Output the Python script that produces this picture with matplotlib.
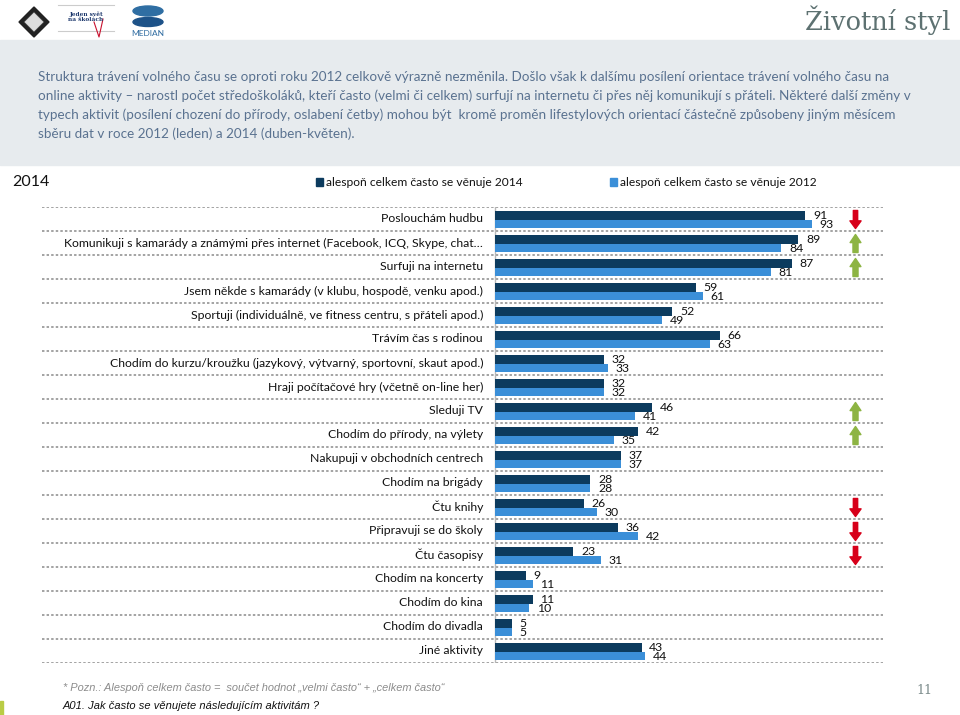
import matplotlib
matplotlib.use('Agg')
import matplotlib.pyplot as plt
from matplotlib.path import Path
from matplotlib.patches import Rectangle, Polygon

# ---------------- data ----------------
categories = [
    "Poslouchám hudbu",
    "Komunikuji s kamarády a známými přes internet (Facebook, ICQ, Skype, chat…",
    "Surfuji na internetu",
    "Jsem někde s kamarády (v klubu, hospodě, venku apod.)",
    "Sportuji (individuálně, ve fitness centru, s přáteli apod.)",
    "Trávím čas s rodinou",
    "Chodím do kurzu/kroužku (jazykový, výtvarný, sportovní, skaut apod.)",
    "Hraji počítačové hry (včetně on-line her)",
    "Sleduji TV",
    "Chodím do přírody, na výlety",
    "Nakupuji v obchodních centrech",
    "Chodím na brigády",
    "Čtu knihy",
    "Připravuji se do školy",
    "Čtu časopisy",
    "Chodím na koncerty",
    "Chodím do kina",
    "Chodím do divadla",
    "Jiné aktivity",
]
v2014 = [91, 89, 87, 59, 52, 66, 32, 32, 46, 42, 37, 28, 26, 36, 23, 9, 11, 5, 43]
v2012 = [93, 84, 81, 61, 49, 63, 33, 32, 41, 35, 37, 28, 30, 42, 31, 11, 10, 5, 44]
change = ['down', 'up', 'up', None, None, None, None, None, 'up', 'up',
          None, None, 'down', 'down', 'down', None, None, None, None]
series_names = ["alespoň celkem často se věnuje 2014", "alespoň celkem často se věnuje 2012"]

paragraph = [
    "Struktura trávení volného času se oproti roku 2012 celkově výrazně nezměnila. Došlo však k dalšímu posílení orientace trávení volného času na",
    "online aktivity – narostl počet středoškoláků, kteří často (velmi či celkem) surfují na internetu či přes něj komunikují s přáteli. Některé další změny v",
    "typech aktivit (posílení chození do přírody, oslabení četby) mohou být  kromě proměn lifestylových orientací částečně způsobeny jiným měsícem",
    "sběru dat v roce 2012 (leden) a 2014 (duben-květen).",
]
paragraph_widths = [910, 910, 898, 315]

DARK = '#0c3b5e'
LIGHT = '#3b8fd8'
RED = '#d7001a'
GREEN = '#8db443'
SANS = ['Lato', 'DejaVu Sans']

W, H = 960, 715
fig = plt.figure(figsize=(W / 100, H / 100), dpi=100)
fig.patch.set_facecolor('white')
renderer = fig.canvas.get_renderer()


def fx(x):
    return x / W


def fy(y):
    return 1 - y / H


def fit(t, target):
    w = t.get_window_extent(renderer).width
    t.set_fontsize(t.get_fontsize() * target / w)
    return t.get_fontsize()


# ---------------- header ----------------
fig.patches.append(Rectangle((0, fy(165)), 1, 125 / H, transform=fig.transFigure,
                             color='#e7ebee', zorder=0))
tt = fig.text(fx(950), fy(30), "Životní styl", family=['DejaVu Serif'], color='#5d7171',
              fontsize=20, ha='right', va='baseline')
fit(tt, 145)

# simple logo sketches
fig.patches.append(Polygon([(fx(34), fy(7)), (fx(49), fy(22)), (fx(34), fy(37)), (fx(19), fy(22))],
                           closed=True, transform=fig.transFigure, color='#222222'))
fig.patches.append(Polygon([(fx(34), fy(12)), (fx(44), fy(22)), (fx(34), fy(32)), (fx(24), fy(22))],
                           closed=True, transform=fig.transFigure, facecolor='#dddddd',
                           edgecolor='#444444', lw=0.5))
for yy in (5, 31):
    fig.lines.append(plt.Line2D([fx(58), fx(114)], [fy(yy), fy(yy)], transform=fig.transFigure,
                                color='#cccccc', lw=0.8))
fig.text(fx(86), fy(17), "Jeden svět\nna školách", family=['DejaVu Serif'], fontsize=4.2,
         color='#1f3a6e', ha='center', va='center', weight='bold', linespacing=1.0)
fig.lines.append(plt.Line2D([fx(94), fx(99), fx(103)], [fy(22), fy(37), fy(19)],
                            transform=fig.transFigure, color='#c8102e', lw=0.8))
fig.patches.append(matplotlib.patches.Ellipse((fx(148), fy(11)), 30 / W, 10 / H,
                                              transform=fig.transFigure, color='#2f6ea3'))
fig.patches.append(matplotlib.patches.Ellipse((fx(148), fy(22)), 30 / W, 9 / H,
                                              transform=fig.transFigure, color='#1d5288'))
fig.text(fx(148), fy(33), "MEDIAN", family=SANS, fontsize=6, color='#2d6a9f',
         ha='center', va='center')

# paragraph
line_y = [77, 96, 115, 134]
sizes = []
objs = []
for s, yy, wdt in zip(paragraph, line_y, paragraph_widths):
    t = fig.text(fx(38), fy(yy), s, family=SANS, color='#5a7290', fontsize=10,
                 ha='left', va='center')
    sizes.append(fit(t, wdt))
    objs.append(t)
ps = min(sizes)
for t in objs:
    t.set_fontsize(ps)

# legend row
fig.text(fx(12), fy(182), "2014", family=SANS, fontsize=11.5, color='#111111', va='center')
for (sx, col, name) in [(316, DARK, series_names[0]), (610, LIGHT, series_names[1])]:
    fig.patches.append(Rectangle((fx(sx), fy(186)), 7 / W, 8 / H, transform=fig.transFigure,
                                 color=col))
    lt = fig.text(fx(sx + 10), fy(182), name, family=SANS, fontsize=9.5, color='#111111',
                  va='center', ha='left')
    fit(lt, 197)

# ---------------- chart ----------------
PXU = 3.41  # pixels per percent
x0 = 495
ax = fig.add_axes([fx(42), fy(663), (883 - 42) / W, (663 - 207) / H])
ax.set_xlim(-(x0 - 42) / PXU, (883 - x0) / PXU)
n = len(categories)
ax.set_ylim(n, 0)
ax.axis('off')

for i in range(n + 1):
    ax.axhline(i, color='#8a8a8a', lw=1.1, ls=(0, (1.6, 1.4)), zorder=1)
ax.plot([0, 0], [0, n], color='#b8b8b8', lw=1.0, zorder=2)

ypos = list(range(n))
ax.barh([y + 0.18 for y in ypos], v2014, height=0.355, left=0, align='edge',
        color=DARK, zorder=3)
ax.barh([y + 0.535 for y in ypos], v2012, height=0.355, left=0, align='edge',
        color=LIGHT, zorder=3)

# category labels
lab_objs = []
for i, c in enumerate(categories):
    t = ax.annotate(c, xy=(0, i + 0.5), xytext=(-8.6, 0), textcoords='offset points',
                    ha='right', va='center', family=SANS, fontsize=9.5, color='#111111')
    lab_objs.append(t)
fig.canvas.draw()
ls_ = fit(lab_objs[1], 422)
for t in lab_objs:
    t.set_fontsize(ls_)

# value labels
for i in range(n):
    ax.annotate(str(v2014[i]), xy=(v2014[i], i + 0.36), xytext=(5.5, 0),
                textcoords='offset points', ha='left', va='center', family=SANS,
                fontsize=8.8, color='#111111', zorder=5)
    ax.annotate(str(v2012[i]), xy=(v2012[i], i + 0.71), xytext=(5.5, 0),
                textcoords='offset points', ha='left', va='center', family=SANS,
                fontsize=8.8, color='#111111', zorder=5)

# change arrows
up_verts = [(-0.28, -1), (0.28, -1), (0.28, 0.1), (0.6, 0.1), (0, 1), (-0.6, 0.1),
            (-0.28, 0.1), (-0.28, -1)]
up_path = Path(up_verts, [Path.MOVETO] + [Path.LINETO] * 6 + [Path.CLOSEPOLY])
dn_verts = [(-0.24, 1), (0.24, 1), (0.24, -0.15), (0.62, -0.15), (0, -1), (-0.62, -0.15),
            (-0.24, -0.15), (-0.24, 1)]
dn_path = Path(dn_verts, [Path.MOVETO] + [Path.LINETO] * 6 + [Path.CLOSEPOLY])
arrow_x = (855 - x0) / PXU
for i, ch in enumerate(change):
    if ch == 'up':
        ax.plot([arrow_x], [i + 0.5], marker=up_path, ms=13, color=GREEN, ls='none', zorder=4)
    elif ch == 'down':
        ax.plot([arrow_x], [i + 0.5], marker=dn_path, ms=13, color=RED, ls='none', zorder=4)

# ---------------- footer ----------------
NARROW = ['Liberation Sans Narrow', 'Liberation Sans', 'DejaVu Sans']
f1 = fig.text(fx(63), fy(688), "* Pozn.: Alespoň celkem často =  součet hodnot „velmi často“ + „celkem často“",
              family=NARROW, style='italic', fontsize=8.5, color='#8c8c8c', va='center')
fit(f1, 380)
f2 = fig.text(fx(63), fy(706), "A01. Jak často se věnujete následujícím aktivitám ?",
              family=NARROW, style='italic', fontsize=8.5, color='#111111', va='center')
fit(f2, 252)
fig.text(fx(932), fy(690), "11", family=['DejaVu Serif'], fontsize=9, color='#7a8a8a',
         ha='right', va='center')
fig.patches.append(Rectangle((0, 0), 3 / W, 14 / H, transform=fig.transFigure, color='#b9cc45'))

fig.savefig('out.png', dpi=100, facecolor='white')
